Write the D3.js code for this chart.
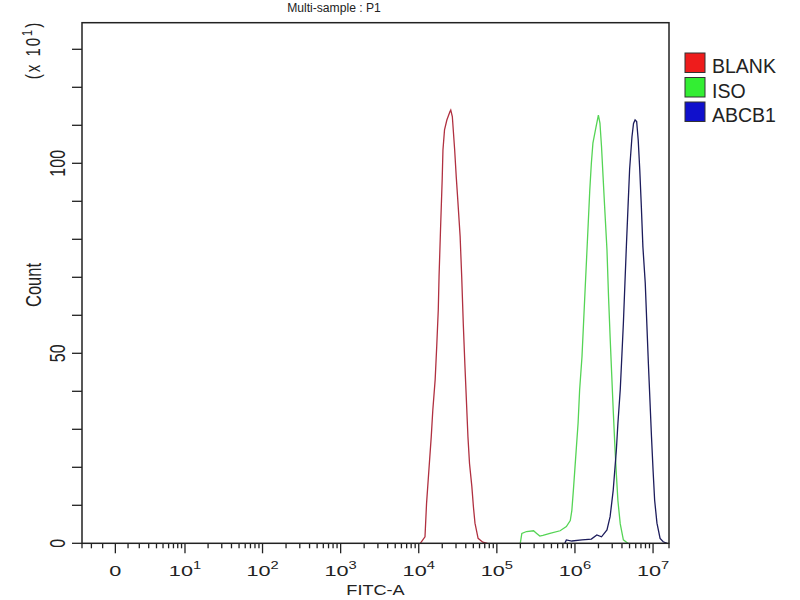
<!DOCTYPE html>
<html>
<head>
<meta charset="utf-8">
<script src="https://cdn.jsdelivr.net/npm/d3@7"></script>
<style>
  body { margin: 0; background: #fff; }
  svg text { font-family: "Liberation Sans", Arial, sans-serif; fill: #222; }
</style>
</head>
<body>
<div id="chart"></div>
<script>
// log10 of FITC-A intensity and event count (x10)
const blankLog = [4.02, 4.08, 4.10, 4.13, 4.16, 4.18, 4.21, 4.23, 4.25, 4.26, 4.28, 4.30, 4.31, 4.33, 4.36, 4.40, 4.41,
                  4.43, 4.46, 4.48, 4.50, 4.53, 4.55, 4.57, 4.59, 4.61, 4.63, 4.65, 4.68, 4.70, 4.72, 4.76, 4.82, 4.88];
const blankCount = [0, 1.7, 10.5, 19.3, 28, 35, 43, 51.7, 61.4, 70.2, 83.3, 95.6, 103.5, 108.8, 111.4, 113.6, 114,
                    112.3, 103.5, 96.5, 90.3, 80.7, 70.2, 57.9, 47.4, 37.7, 28, 21, 14.9, 9.6, 5.3, 1.3, 0.3, 0];

const isoLog = [5.30, 5.32, 5.38, 5.47, 5.51, 5.55, 5.59, 5.68, 5.81, 5.89, 5.94, 5.96, 5.98, 6.01, 6.04, 6.06, 6.09,
                6.11, 6.13, 6.15, 6.17, 6.19, 6.21, 6.23, 6.27, 6.30, 6.32, 6.34, 6.36, 6.38, 6.41, 6.43, 6.45,
                6.47, 6.49, 6.51, 6.53, 6.55, 6.58, 6.62, 6.66, 6.68];
const isoCount = [0, 2.6, 3.1, 3.3, 2.6, 1.9, 2.1, 2.6, 3.3, 4.4, 6.0, 8.6, 14, 22.8, 31.6, 40.4, 49.1,
                  57.9, 66.7, 75.4, 84.2, 93, 100, 105.3, 109.6, 112.7, 110.6, 104.4, 96.5, 88.6, 77.2, 64.9, 54.4,
                  44.7, 35, 26.1, 18.2, 11.2, 5.1, 0.9, 0.3, 0];

const abcbLog = [5.87, 5.89, 5.96, 6.09, 6.21, 6.28, 6.34, 6.41, 6.45, 6.49, 6.51, 6.53, 6.55, 6.58, 6.60, 6.62,
                 6.64, 6.66, 6.68, 6.70, 6.73, 6.75, 6.77, 6.79, 6.81, 6.83, 6.85, 6.87, 6.90, 6.92, 6.94, 6.96,
                 6.98, 7.00, 7.02, 7.05, 7.09, 7.13, 7.18];
const abcbCount = [0, 0.9, 0.6, 0.9, 1.1, 2.2, 1.7, 3.5, 7.0, 14, 19.3, 24.5, 31.6, 40.4, 49.1, 57.9,
                   68.5, 79, 88.8, 98.5, 107, 110.5, 111.4, 111, 106.1, 98.2, 88.6, 78, 68.5, 57.9, 47.4, 37.7,
                   28, 19.3, 11.4, 5.3, 1.3, 0.4, 0];

const seriesNames = ["BLANK", "ISO", "ABCB1"];
const lineColors = ["#b03040", "#55d455", "#1c1c5c"];
const legendColors = ["#ee1c1c", "#33ee33", "#1010cc"];

const xMajorExp = [1, 2, 3, 4, 5, 6, 7];
const yTicks = d3.range(0, 140, 10);
const yLabels = [0, 50, 100];

const width = 800, height = 600;
const margin = {top: 22.7, right: 131, bottom: 56.7, left: 82};

// biexponential-like display: arcsinh of value / cofactor
const C = 2.61;
const xMin = -3, xMax = 1.6e7;
const tx = v => Math.asinh(v / C);

const svg = d3.select("#chart").append("svg")
    .attr("width", width)
    .attr("height", height);

const xs = d3.scaleLinear()
    .domain([tx(xMin), tx(xMax)])
    .range([margin.left, width - margin.right]);
const x = v => xs(tx(v));

const y = d3.scaleLinear()
    .domain([0, 137])
    .range([height - margin.bottom, margin.top]);

const x0 = margin.left, x1 = width - margin.right;
const y0 = height - margin.bottom, y1 = margin.top;

// text helper: horizontally stretched like the source rendering
function label(px, py, size, sx, rot) {
    const g = svg.append("g")
        .attr("transform", `translate(${px},${py}) scale(${sx},1) rotate(${rot})`);
    return g.append("text")
        .attr("text-anchor", "middle")
        .style("font-size", size + "px");
}

// curves
svg.append("clipPath").attr("id", "plot-clip")
    .append("rect").attr("x", x0).attr("y", y1).attr("width", x1 - x0).attr("height", y0 - y1);

const line = d3.line()
    .x(d => x(Math.pow(10, d[0])))
    .y(d => y(d[1]));

const series = [
    d3.zip(blankLog, blankCount),
    d3.zip(isoLog, isoCount),
    d3.zip(abcbLog, abcbCount)
];

series.forEach((s, i) => {
    svg.append("path")
        .datum(s)
        .attr("clip-path", "url(#plot-clip)")
        .attr("fill", "none")
        .attr("stroke", lineColors[i])
        .attr("stroke-width", 1.3)
        .attr("d", line);
});

// frame
svg.append("rect")
    .attr("x", x0).attr("y", y1)
    .attr("width", x1 - x0).attr("height", y0 - y1)
    .attr("fill", "none")
    .attr("stroke", "#222")
    .attr("stroke-width", 1.5);

// x ticks
const xMinor = [-3, -2, -1, ...d3.range(1, 10)];
xMajorExp.slice(0, -1).forEach(e => {
    d3.range(2, 10).forEach(m => xMinor.push(m * Math.pow(10, e)));
});
xMinor.push(xMax);
const xMajor = [0, ...xMajorExp.map(e => Math.pow(10, e))];

svg.selectAll(".xminor").data(xMinor).join("line")
    .attr("x1", d => x(d)).attr("x2", d => x(d))
    .attr("y1", y0).attr("y2", y0 + 5)
    .attr("stroke", "#222").attr("stroke-width", 1.3);
svg.selectAll(".xmajor").data(xMajor).join("line")
    .attr("x1", d => x(d)).attr("x2", d => x(d))
    .attr("y1", y0).attr("y2", y0 + 10)
    .attr("stroke", "#222").attr("stroke-width", 1.3);

label(x(0), 576, 15.5, 1.4, 0).text("0");
xMajorExp.forEach(e => {
    const t = label(x(Math.pow(10, e)), 576, 15.5, 1.4, 0);
    t.append("tspan").text("10");
    t.append("tspan").attr("dy", -7).style("font-size", "10.5px").text(e);
});

// y ticks
svg.selectAll(".ytick").data(yTicks).join("line")
    .attr("x1", x0 - 10).attr("x2", x0)
    .attr("y1", d => y(d)).attr("y2", d => y(d))
    .attr("stroke", "#222").attr("stroke-width", 1.3);

yLabels.forEach(v => {
    label(65, y(v), 16, 1.4, -90).text(v);
});

// axis titles
const ex = label(40, 50, 15, 1.3, -90).style("letter-spacing", "2px");
ex.append("tspan").text("(x 10");
ex.append("tspan").attr("dy", -6).style("font-size", "11px").text("1");
ex.append("tspan").attr("dy", 6).text(")");

label(41, 285, 16.5, 1.3, -90).text("Count");
label((x0 + x1) / 2, 595, 15.5, 1.17, 0).text("FITC-A");
label(334, 12, 13.5, 0.9, 0).text("Multi-sample : P1");

// legend
const legend = svg.append("g").attr("transform", "translate(685,53)");
seriesNames.forEach((name, i) => {
    legend.append("rect")
        .attr("x", 0).attr("y", i * 24.5)
        .attr("width", 20).attr("height", 19.5)
        .attr("fill", legendColors[i])
        .attr("stroke", "#333").attr("stroke-width", 1);
    legend.append("text")
        .attr("x", 27).attr("y", i * 24.5 + 20)
        .style("font-size", "19.5px")
        .text(name);
});
</script>
</body>
</html>
